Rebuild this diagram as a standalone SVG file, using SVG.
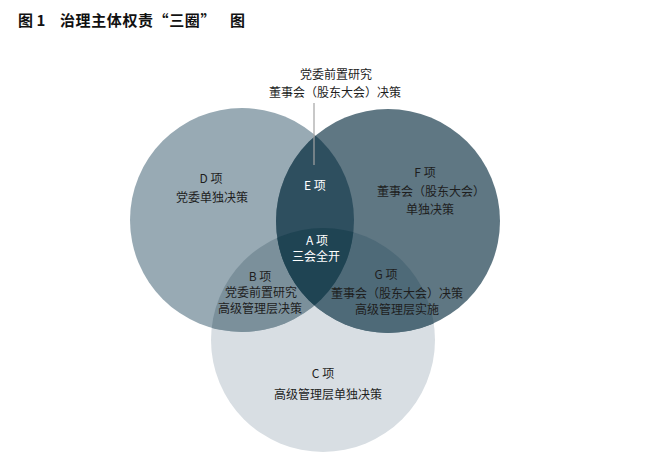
<svg xmlns="http://www.w3.org/2000/svg" width="671" height="461" viewBox="0 0 671 461">
<style>
text{font-family:"Noto Sans CJK SC","Liberation Sans",sans-serif;font-size:12px;text-anchor:middle;fill:#1e1e1e}
.w{fill:#ffffff}
.title{font-size:15px;font-weight:bold;text-anchor:start;fill:#111}
</style>
<defs>
<clipPath id="cL"><circle cx="242" cy="220" r="112"/></clipPath>
<clipPath id="cR"><circle cx="388" cy="221" r="112"/></clipPath>
<clipPath id="cC"><circle cx="323" cy="340" r="112"/></clipPath>
</defs>
<rect width="671" height="461" fill="#ffffff"/>
<g id="title">
<text class="title" x="18" y="26">图 1</text>
<text class="title" x="60" y="26" letter-spacing="0.6">治理主体权责“三圈”</text>
<text class="title" x="230" y="26">图</text>
</g>
<g id="node-C"><circle cx="323" cy="340" r="112" fill="#d8dee3"/></g>
<g id="node-D"><circle cx="242" cy="220" r="112" fill="#98aab4"/></g>
<g id="node-F"><circle cx="388" cy="221" r="112" fill="#5f7783"/></g>
<g id="node-B"><circle cx="242" cy="220" r="112" fill="#7b909b" clip-path="url(#cC)"/></g>
<g id="node-G"><circle cx="388" cy="221" r="112" fill="#4e6a78" clip-path="url(#cC)"/></g>
<g id="node-E"><circle cx="388" cy="221" r="112" fill="#2e4f5f" clip-path="url(#cL)"/></g>
<g id="node-A"><g clip-path="url(#cL)"><circle cx="388" cy="221" r="112" fill="#1f4453" clip-path="url(#cC)"/></g></g>
<g id="connectors"><line x1="314" y1="103" x2="314" y2="165" stroke="#a3a3a3" stroke-width="1.2"/></g>
<g id="labels">
<text x="336" y="79">党委前置研究</text>
<text x="335" y="97">董事会（股东大会）决策</text>
<text x="211" y="183">D 项</text>
<text x="212" y="202">党委单独决策</text>
<text class="w" x="315" y="190">E 项</text>
<text x="425" y="177">F 项</text>
<text x="431" y="196">董事会（股东大会）</text>
<text x="430" y="214">单独决策</text>
<text class="w" x="317" y="245">A 项</text>
<text class="w" x="316" y="261">三会全开</text>
<text x="260" y="281">B 项</text>
<text x="261" y="297">党委前置研究</text>
<text x="260" y="313">高级管理层决策</text>
<text x="386" y="279">G 项</text>
<text x="397" y="298">董事会（股东大会）决策</text>
<text x="397" y="314">高级管理层实施</text>
<text x="323" y="378">C 项</text>
<text x="328" y="399">高级管理层单独决策</text>
</g>
</svg>
